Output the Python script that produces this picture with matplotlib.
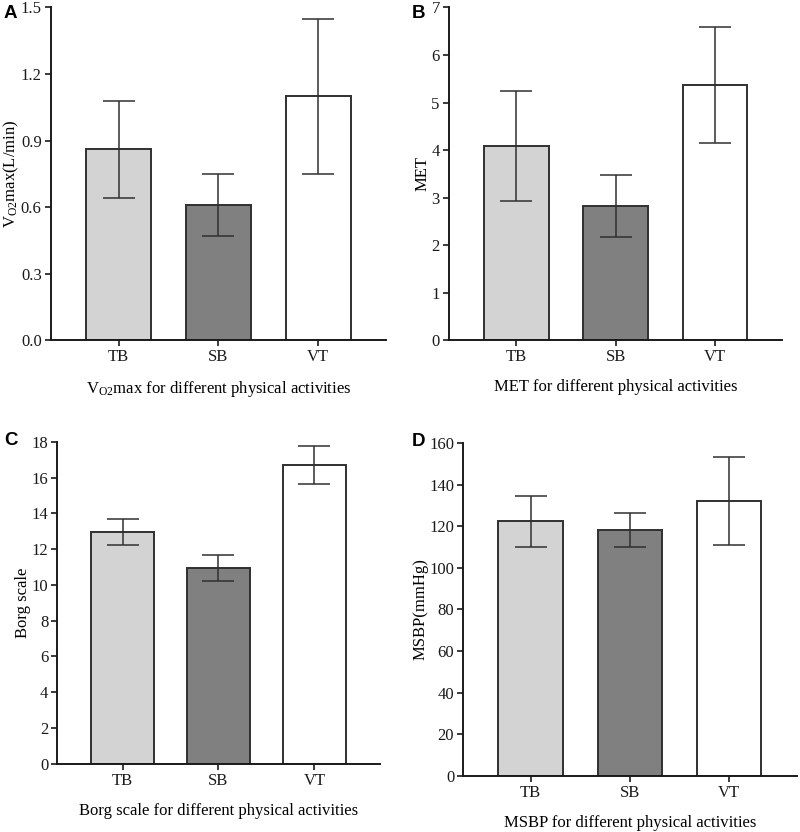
import matplotlib
matplotlib.use("Agg")
import matplotlib.pyplot as plt
import numpy as np

plt.rcParams['font.family'] = ['Liberation Serif', 'DejaVu Serif']
plt.rcParams['mathtext.fontset'] = 'custom'
plt.rcParams['mathtext.rm'] = 'Liberation Serif'
plt.rcParams['mathtext.it'] = 'Liberation Serif:italic'

categories = ['TB', 'SB', 'VT']
bar_colors = ['#d3d3d3', '#808080', '#ffffff']

vo2_mean = [0.86, 0.61, 1.10]
vo2_sd = [0.22, 0.14, 0.35]
met_mean = [4.08, 2.83, 5.37]
met_sd = [1.16, 0.65, 1.23]
borg_mean = [12.95, 10.95, 16.70]
borg_sd = [0.74, 0.73, 1.05]
msbp_mean = [122.4, 118.4, 132.3]
msbp_sd = [12.3, 8.1, 21.2]

panels = [
    dict(rect=[0.0634, 0.591, 0.419, 0.400], mean=vo2_mean, sd=vo2_sd,
         ylim=(0, 1.5), yticks=[0, 0.3, 0.6, 0.9, 1.2, 1.5], fmt='{:.1f}',
         ylabel=r'V$_{\mathrm{O2}}$max(L/min)',
         xlabel=r'V$_{\mathrm{O2}}$max for different physical activities',
         letter='A', lpos=(0.005, 0.9835), ylx=-0.088),
    dict(rect=[0.561, 0.591, 0.417, 0.400], mean=met_mean, sd=met_sd,
         ylim=(0, 7), yticks=list(range(0, 8)), fmt='{:d}',
         ylabel='MET', xlabel='MET for different physical activities',
         letter='B', lpos=(0.515, 0.9835), ylx=-0.054),
    dict(rect=[0.0716, 0.0821, 0.403, 0.3867], mean=borg_mean, sd=borg_sd,
         ylim=(0, 18), yticks=list(range(0, 19, 2)), fmt='{:d}',
         ylabel='Borg scale', xlabel='Borg scale for different physical activities',
         letter='C', lpos=(0.005, 0.470), ylx=-0.08),
    dict(rect=[0.579, 0.0677, 0.4168, 0.3995], mean=msbp_mean, sd=msbp_sd,
         ylim=(0, 160), yticks=list(range(0, 161, 20)), fmt='{:d}',
         ylabel='MSBP(mmHg)', xlabel='MSBP for different physical activities',
         letter='D', lpos=(0.515, 0.469), ylx=-0.103),
]

fig = plt.figure(figsize=(8, 8.32), dpi=100)
x = np.arange(len(categories))
for p in panels:
    ax = fig.add_axes(p['rect'])
    ax.bar(x, p['mean'], width=0.65, color=bar_colors, edgecolor='#303030',
           linewidth=1.4, zorder=2)
    ax.errorbar(x, p['mean'], yerr=p['sd'], fmt='none', ecolor='#303030',
                elinewidth=1.1, capsize=11.5, capthick=1.1, zorder=3)
    ax.set_xlim(-0.68, 2.68)
    ax.set_ylim(*p['ylim'])
    ax.set_yticks(p['yticks'])
    ax.set_yticklabels([p['fmt'].format(v) for v in p['yticks']])
    ax.set_xticks(x)
    ax.set_xticklabels(categories)
    for s in ['top', 'right']:
        ax.spines[s].set_visible(False)
    for s in ['left', 'bottom']:
        ax.spines[s].set_linewidth(1.4)
        ax.spines[s].set_color('#1a1a1a')
    ax.tick_params(axis='both', direction='out', length=4.5, width=1.2,
                   labelsize=12, colors='#1a1a1a', pad=2)
    ax.set_ylabel(p['ylabel'], fontsize=12)
    ax.yaxis.set_label_coords(p['ylx'], 0.5)
    ax.set_xlabel(p['xlabel'], fontsize=12, labelpad=10)
    fig.text(p['lpos'][0], p['lpos'][1], p['letter'], fontsize=13.5,
             fontweight='bold', family='Liberation Sans', va='center', ha='left')

fig.savefig('out.png', dpi=100)
